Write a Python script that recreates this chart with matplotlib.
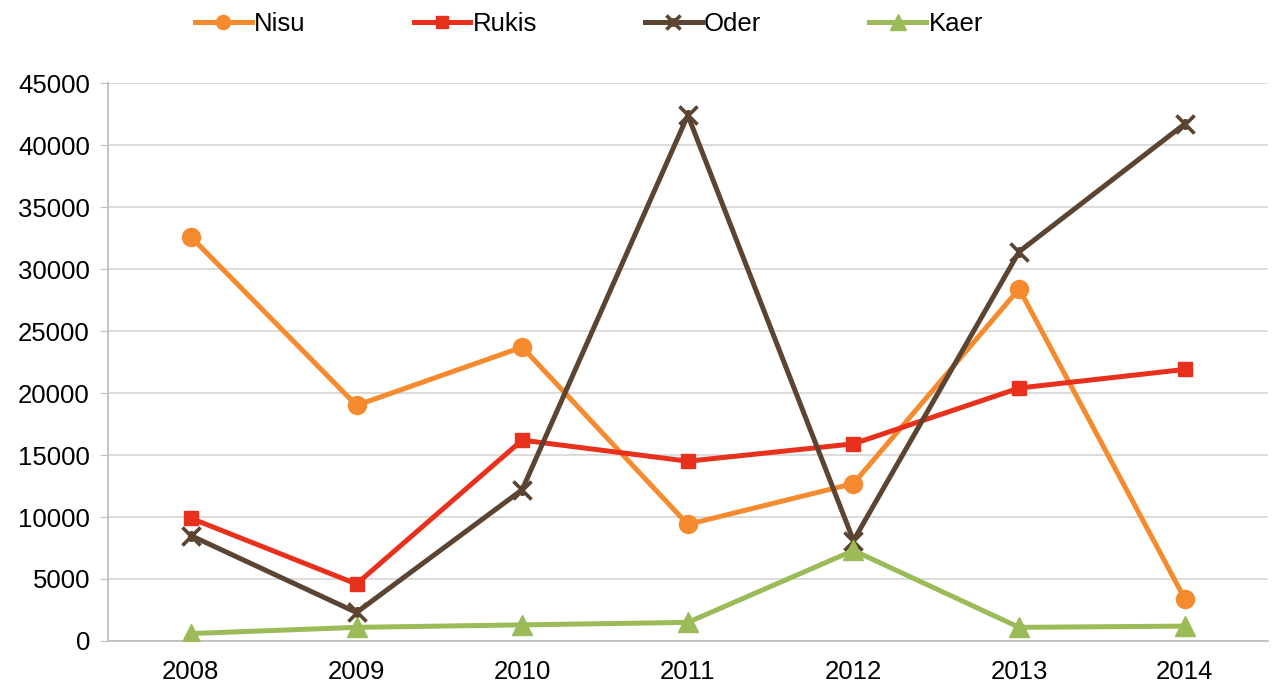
import matplotlib
matplotlib.use("Agg")
import matplotlib.pyplot as plt
from matplotlib.path import Path

years = ["2008", "2009", "2010", "2011", "2012", "2013", "2014"]
nisu = [32600, 19000, 23700, 9400, 12700, 28400, 3400]
rukis = [9900, 4600, 16200, 14500, 15900, 20400, 21900]
oder = [8500, 2300, 12200, 42400, 8100, 31400, 41700]
kaer = [600, 1100, 1300, 1500, 7300, 1100, 1200]
yticks = list(range(0, 45001, 5000))

plt.rcParams['font.family'] = ['Liberation Sans', 'DejaVu Sans']

star = Path([(-1, -1), (1, 1), (-1, 1), (1, -1), (0, -0.6), (0, 0.6)],
            [Path.MOVETO, Path.LINETO, Path.MOVETO, Path.LINETO, Path.MOVETO, Path.LINETO])

fig = plt.figure(figsize=(12.74, 6.86), dpi=100)
ax = fig.add_axes([0.0848, 0.0656, 0.9102, 0.8134])

x = list(range(len(years)))
ax.plot(x, nisu, color='#F58A2E', lw=3.6, marker='o', ms=13, label='Nisu', zorder=3)
ax.plot(x, rukis, color='#E8311C', lw=3.6, marker='s', ms=10.5, label='Rukis', zorder=3)
ax.plot(x, oder, color='#5B4432', lw=3.6, marker=star, ms=13, mew=2.6, label='Oder', zorder=4)
ax.plot(x, kaer, color='#9BBB59', lw=3.6, marker='^', ms=15, label='Kaer', zorder=5)

ax.set_xlim(-0.5, 6.5)
ax.set_ylim(0, 45000)
ax.set_yticks(yticks)
ax.set_yticklabels([str(v) for v in yticks])
ax.set_xticks(x)
ax.set_xticklabels(years)
ax.grid(axis='y', color='#D9D9D9', lw=1.3)
ax.set_axisbelow(True)
for s in ['top', 'right']:
    ax.spines[s].set_visible(False)
ax.spines['left'].set_color('#BFBFBF')
ax.spines['bottom'].set_color('#BFBFBF')
ax.spines['left'].set_linewidth(1.3)
ax.spines['bottom'].set_linewidth(1.3)
ax.tick_params(axis='y', length=6, color='#BFBFBF', labelsize=18.5, pad=7)
ax.tick_params(axis='x', length=0, labelsize=18.5, pad=14)

handles, labels = ax.get_legend_handles_labels()
leg = fig.legend(handles, labels, loc='upper left', bbox_to_anchor=(0.135, 1.016), ncol=4,
                 frameon=False, fontsize=18.5, handlelength=2.2, columnspacing=4.2,
                 handletextpad=0.1, markerscale=0.78)

fig.savefig('out.png', dpi=100)
